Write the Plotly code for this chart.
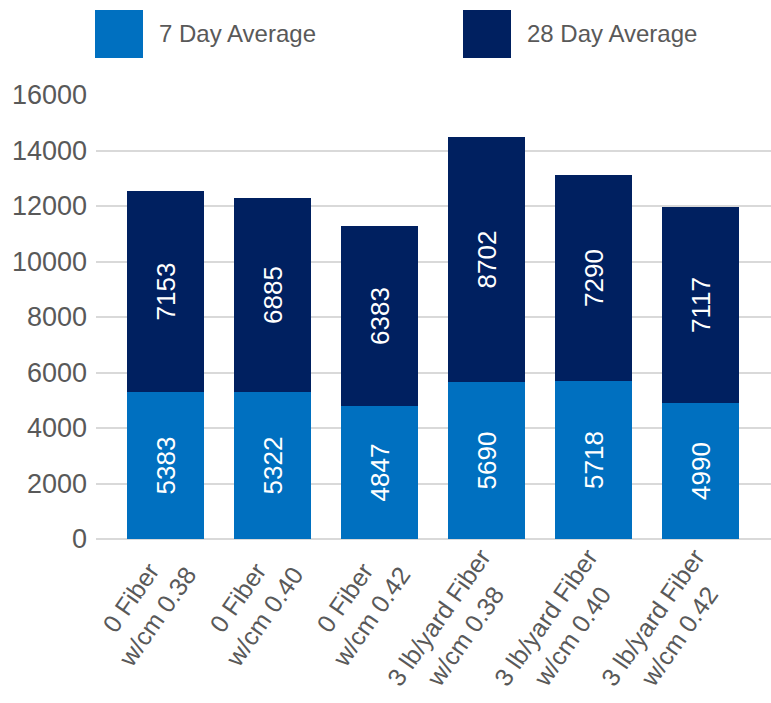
import plotly.graph_objects as go

categories = [
    "0 Fiber<br>w/cm 0.38",
    "0 Fiber<br>w/cm 0.40",
    "0 Fiber<br>w/cm 0.42",
    "3 lb/yard Fiber<br>w/cm 0.38",
    "3 lb/yard Fiber<br>w/cm 0.40",
    "3 lb/yard Fiber<br>w/cm 0.42",
]
series_names = ["7 Day Average", "28 Day Average"]
# printed data labels
day7_labels = [5383, 5322, 4847, 5690, 5718, 4990]
day28_labels = [7153, 6885, 6383, 8702, 7290, 7117]
# segment heights as drawn in the picture
day7_heights = [5280, 5280, 4810, 5640, 5710, 4890]
day28_heights = [7245, 6995, 6455, 8830, 7425, 7060]
y_ticks = [0, 2000, 4000, 6000, 8000, 10000, 12000, 14000, 16000]

colors = ["#0070C0", "#002060"]
FONT = "Liberation Sans, Arial, sans-serif"
GRAY = "#595959"

W, H = 771, 703
ML, MR, MT, MB = 96, 0, 95, 164
pw, ph = W - ML - MR, H - MT - MB

fig = go.Figure()
for name, vals, labels, col in zip(series_names, [day7_heights, day28_heights],
                                   [day7_labels, day28_labels], colors):
    fig.add_trace(go.Bar(
        x=categories, y=vals, name=name, marker=dict(color=col, line=dict(width=0)),
        width=0.72, text=[str(v) for v in labels], textposition="inside",
        insidetextanchor="middle", textangle=-90,
        textfont=dict(color="white", size=26, family=FONT),
        showlegend=False,
    ))

# category labels (rotated, centred lines)
annotations = []
for c in categories:
    annotations.append(dict(
        x=c, xref="x", y=0, yref="paper", text=c, showarrow=False,
        textangle=-55, xanchor="right", yanchor="top", align="center",
        xshift=38, yshift=-3, borderpad=0,
        font=dict(size=25, color=GRAY, family=FONT),
    ))

# custom legend with large squares
shapes = []
leg_x = [95, 463]
for i, (name, col) in enumerate(zip(series_names, colors)):
    x0 = (leg_x[i] - ML) / pw
    x1 = (leg_x[i] + 48 - ML) / pw
    y0 = (H - MB - 58) / ph
    y1 = (H - MB - 10) / ph
    shapes.append(dict(type="rect", xref="paper", yref="paper", x0=x0, x1=x1, y0=y0, y1=y1,
                       fillcolor=col, line=dict(width=0)))
    annotations.append(dict(
        x=(leg_x[i] + 62 - ML) / pw, xref="paper", y=(H - MB - 34) / ph, yref="paper",
        text=name, showarrow=False, xanchor="left", yanchor="middle",
        font=dict(size=24, color=GRAY, family=FONT),
    ))

fig.update_layout(
    width=W, height=H, barmode="stack", bargap=0,
    margin=dict(l=ML, r=MR, t=MT, b=MB, pad=0),
    plot_bgcolor="white", paper_bgcolor="white",
    font=dict(family=FONT, color=GRAY),
    shapes=shapes, annotations=annotations,
    xaxis=dict(range=[-0.6495, 5.659], showticklabels=False, showgrid=False,
               zeroline=False, showline=False, ticks=""),
    yaxis=dict(range=[0, 16000], tickvals=y_ticks, ticktext=[str(v) for v in y_ticks],
               showgrid=True, gridcolor="#D9D9D9", gridwidth=2,
               zeroline=True, zerolinecolor="#D9D9D9", zerolinewidth=2,
               tickfont=dict(size=27, color=GRAY, family=FONT), ticks="", ticklabelstandoff=8),
)

fig.write_html("out.html")
